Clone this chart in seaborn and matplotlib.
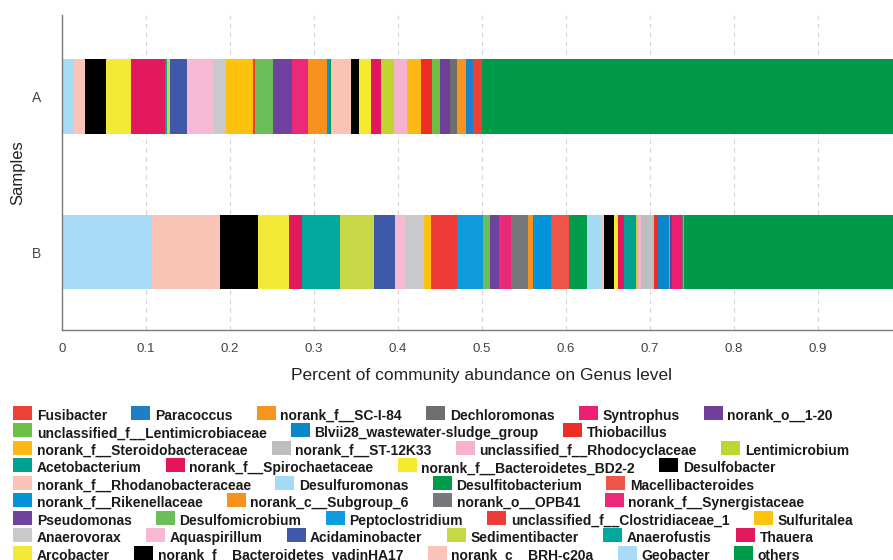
import matplotlib
matplotlib.use("Agg")
import matplotlib.pyplot as plt
from matplotlib.patches import Rectangle
from matplotlib.transforms import IdentityTransform
from matplotlib.ticker import FuncFormatter
import numpy as np
import pandas as pd
import seaborn as sns

# ---- data -------------------------------------------------------------
samples = ["A", "B"]

taxa = [
    "Fusibacter", "Paracoccus", "norank_f__SC-I-84", "Dechloromonas", "Syntrophus",
    "norank_o__1-20", "unclassified_f__Lentimicrobiaceae", "Blvii28_wastewater-sludge_group",
    "Thiobacillus", "norank_f__Steroidobacteraceae", "norank_f__ST-12K33",
    "unclassified_f__Rhodocyclaceae", "Lentimicrobium", "Acetobacterium",
    "norank_f__Spirochaetaceae", "norank_f__Bacteroidetes_BD2-2", "Desulfobacter",
    "norank_f__Rhodanobacteraceae", "Desulfuromonas", "Desulfitobacterium",
    "Macellibacteroides", "norank_f__Rikenellaceae", "norank_c__Subgroup_6",
    "norank_o__OPB41", "norank_f__Synergistaceae", "Pseudomonas", "Desulfomicrobium",
    "Peptoclostridium", "unclassified_f__Clostridiaceae_1", "Sulfuritalea", "Anaerovorax",
    "Aquaspirillum", "Acidaminobacter", "Sedimentibacter", "Anaerofustis", "Thauera",
    "Arcobacter", "norank_f__Bacteroidetes_vadinHA17", "norank_c__BRH-c20a", "Geobacter",
    "others",
]

colors = [
    "#EE4035", "#1E7FC4", "#F7941D", "#6D6E70", "#EC1F73",
    "#6F3F98", "#6DBE45", "#0A87CB",
    "#EE2E24", "#FDB813", "#BDBEC0",
    "#F6B2CE", "#BED630", "#00A191",
    "#E2165E", "#F5EB2E", "#000000",
    "#FAC3B6", "#A5DAF4", "#009B4B",
    "#EF5448", "#0393D8", "#F7921E",
    "#77787B", "#EC2979", "#7042A0", "#6CBE5A",
    "#109BDF", "#EE3B37", "#FEC10E", "#C8C9CB",
    "#F6B8D3", "#3F58A8", "#C6D845", "#00A99C", "#E2195C",
    "#F3EA37", "#000000", "#FAC5B7", "#A8DCF6",
    "#009A49",
]

abund_A = [
    0.0107, 0.0087, 0.0104, 0.0087, 0.0003,
    0.0111, 0.0100, 0.0003,
    0.0126, 0.0160, 0.0003,
    0.0158, 0.0158, 0.0003,
    0.0119, 0.0139, 0.0092,
    0.0226, 0.0020, 0.0003,
    0.0003, 0.0038, 0.0226,
    0.0003, 0.0190, 0.0218, 0.0220,
    0.0003, 0.0018, 0.0328, 0.0157,
    0.0310, 0.0194, 0.0035, 0.0027, 0.0400,
    0.0306, 0.0242, 0.0136, 0.0143,
    0.4994,
]

abund_B = [
    0.0003, 0.0003, 0.0008, 0.0008, 0.0125,
    0.0024, 0.0012, 0.0131,
    0.0042, 0.0018, 0.0143,
    0.0036, 0.0024, 0.0143,
    0.0075, 0.0044, 0.0119,
    0.0020, 0.0186, 0.0211,
    0.0218, 0.0207, 0.0060,
    0.0206, 0.0139, 0.0111, 0.0087,
    0.0303, 0.0310, 0.0087, 0.0226,
    0.0119, 0.0247, 0.0409, 0.0449, 0.0155,
    0.0369, 0.0448, 0.0815, 0.1072,
    0.2588,
]

legend_row_sizes = [6, 3, 4, 4, 4, 4, 5, 6, 5]

x_ticks = [0, 0.1, 0.2, 0.3, 0.4, 0.5, 0.6, 0.7, 0.8, 0.9, 1.0]

# ---- figure -------------------------------------------------------------
sns.set_theme(style="white")
plt.rcParams["font.family"] = ["Liberation Sans", "DejaVu Sans"]

W, H = 893, 560
AX_LEFT, AX_TOP, AX_BOTTOM, AX_SCALE = 62, 15, 330, 839.6
fig = plt.figure(figsize=(W / 100, H / 100), dpi=100)
ax = fig.add_axes([AX_LEFT / W, 1 - AX_BOTTOM / H, AX_SCALE / W, (AX_BOTTOM - AX_TOP) / H])

df = pd.DataFrame({
    "sample": np.repeat(samples, len(taxa)),
    "taxon": taxa * len(samples),
    "value": abund_A + abund_B,
})

# seaborn stacks the last hue level first, so "others" goes first to end up on the right
stack_order = ["others"] + taxa[:-1]
palette = dict(zip(taxa, colors))

sns.histplot(
    data=df, y="sample", hue="taxon", weights="value",
    multiple="stack", discrete=True, shrink=0.48,
    hue_order=stack_order, palette=palette,
    alpha=1, linewidth=0, legend=False, ax=ax,
)

ax.set_xlim(0, 1)
ax.set_ylim(1.5, -0.52)
ax.set_yticks([0, 1])
ax.set_yticklabels(samples)
ax.set_xticks(x_ticks)
ax.xaxis.set_major_formatter(FuncFormatter(lambda v, p: f"{v:g}"))

ax.grid(axis="x", linestyle=(0, (4, 4)), color="#d4d4d4", linewidth=0.8)
ax.grid(axis="y", visible=False)
ax.set_axisbelow(True)

for s in ["top", "right"]:
    ax.spines[s].set_visible(False)
for s in ["left", "bottom"]:
    ax.spines[s].set_color("#7a7a7a")
    ax.spines[s].set_linewidth(1.0)

ax.tick_params(axis="x", direction="out", length=5, width=0.8, color="#7a7a7a",
               labelsize=9.5, labelcolor="#444444", pad=4)
ax.tick_params(axis="y", direction="out", length=5, width=0.8, color="#7a7a7a",
               labelsize=10, labelcolor="#444444", pad=10)

ax.set_xlabel("Percent of community abundance on Genus level", fontsize=12.5,
              color="#222222", labelpad=10)
ax.set_ylabel("Samples", fontsize=12, color="#222222")
ax.yaxis.set_label_coords((25 - AX_LEFT) / AX_SCALE, 0.5)

# ---- legend, laid out row by row in pixel coordinates ------------------
ident = IdentityTransform()
renderer = fig.canvas.get_renderer()
row_y0 = 412.9
row_step = 17.45
sq_w, sq_h = 19, 14
idx = 0
for r, n in enumerate(legend_row_sizes):
    yc = H - (row_y0 + r * row_step)
    x = 13.3
    for k in range(n):
        name, col = taxa[idx], colors[idx]
        fig.patches.append(Rectangle((x, yc - sq_h / 2), sq_w, sq_h, transform=ident,
                                     facecolor=col, edgecolor="none", figure=fig))
        t = fig.text(x + sq_w + 4.4, yc - 1.5, name, transform=ident, fontsize=10,
                     fontweight="bold", color="#1a1a1a", va="center_baseline", ha="left")
        bb = t.get_window_extent(renderer)
        x = bb.x1 + 24.5
        idx += 1

fig.savefig("out.png", dpi=100)
